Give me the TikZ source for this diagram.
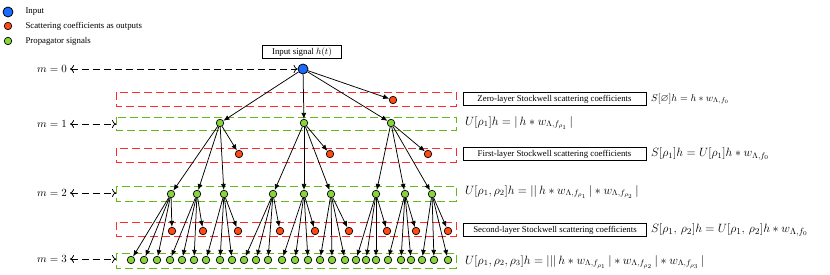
\documentclass[tikz,border=0pt]{standalone}
\usepackage{amsmath}
\usepackage{amssymb}
\usepackage{fontspec}
\setmainfont{Liberation Serif}
\usepackage{xcolor}
\usepackage{tikz}
\usetikzlibrary{arrows.meta}
\definecolor{inblue}{HTML}{1A6BFF}
\definecolor{outred}{HTML}{FF4A12}
\definecolor{propgreen}{HTML}{86D63A}
\definecolor{bandred}{HTML}{FF2A2A}
\definecolor{bandgreen}{HTML}{64B81A}

\begin{document}
\begin{tikzpicture}[x=1pt,y=-1pt,>={Latex[length=6pt,width=5pt]},
  innode/.style={circle,draw,line width=0.8pt,fill=inblue,inner sep=0pt,minimum size=10pt},
  outnode/.style={circle,draw,line width=0.7pt,fill=outred,inner sep=0pt,minimum size=7.5pt},
  propnode/.style={circle,draw,line width=0.7pt,fill=propgreen,inner sep=0pt,minimum size=7.5pt},
  lnk/.style={->,line width=0.75pt},
  marr/.style={{Computer Modern Rightarrow[length=4pt,width=8pt]}-{Computer Modern Rightarrow[length=4pt,width=8pt]},dash pattern=on 7pt off 4pt,line width=0.8pt},
  redband/.style={draw=bandred,dash pattern=on 8pt off 4pt,line width=0.9pt},
  greenband/.style={draw=bandgreen,dash pattern=on 8pt off 4pt,line width=0.9pt},
  coefbox/.style={draw,line width=0.8pt,minimum width=183pt,minimum height=13pt,inner sep=1pt,font=\fontsize{8.8}{10}\selectfont},
  legtext/.style={anchor=west,font=\fontsize{8.8}{10}\selectfont},
  mlabel/.style={inner sep=3pt,font=\fontsize{10.5}{12}\selectfont},
  formula/.style={anchor=west,inner sep=0pt,font=\fontsize{11.5}{13}\selectfont}]
  \useasboundingbox (0,0) rectangle (830,275);

  % legend
  \node[innode] (kin) at (8,12) {};
  \node[outnode] (kout) at (8,26) {};
  \node[propnode] (kprop) at (8,41) {};
  \node[legtext] (tin) at (22,12) {Input};
  \node[legtext] (tout) at (22,26) {Scattering coefficients as outputs};
  \node[legtext] (tprop) at (22,41) {Propagator signals};

  % layer bands
  \draw[redband] (116,92) rectangle (456,106);
  \draw[greenband] (116,117) rectangle (456,130);
  \draw[redband] (116,148) rectangle (456,162);
  \draw[greenband] (116,186) rectangle (456,201);
  \draw[redband] (116,222) rectangle (456,236);
  \draw[greenband] (116,253) rectangle (456,268);

  % input and outputs of layer 0
  \node[draw,line width=0.8pt,minimum width=79pt,minimum height=13pt,inner sep=1pt,font=\fontsize{8.8}{10}\selectfont] (sig) at (302,52) {Input signal $h(t)$};
  \node[innode] (in) at (303,69) {};
  \node[outnode] (s0) at (393,100) {};

  % layer 1
  \node[propnode] (u1) at (220,123) {};
  \node[propnode] (u2) at (304,123) {};
  \node[propnode] (u3) at (391,123) {};
  \node[outnode] (s1) at (239,154) {};
  \node[outnode] (s2) at (330,154) {};
  \node[outnode] (s3) at (428,154) {};

  % layer 2
  \node[propnode] (v1) at (171,194) {};
  \node[propnode] (v2) at (197,194) {};
  \node[propnode] (v3) at (224,194) {};
  \node[propnode] (v4) at (273,194) {};
  \node[propnode] (v5) at (304,194) {};
  \node[propnode] (v6) at (331,194) {};
  \node[propnode] (v7) at (376,194) {};
  \node[propnode] (v8) at (405,194) {};
  \node[propnode] (v9) at (432,194) {};
  \node[outnode] (t1) at (172,231) {};
  \node[outnode] (t2) at (203,231) {};
  \node[outnode] (t3) at (238,231) {};
  \node[outnode] (t4) at (280,231) {};
  \node[outnode] (t5) at (315,231) {};
  \node[outnode] (t6) at (349,231) {};
  \node[outnode] (t7) at (387,231) {};
  \node[outnode] (t8) at (416,231) {};
  \node[outnode] (t9) at (448,231) {};

  % layer 3
  \node[propnode] (w1) at (131,260) {};
  \node[propnode] (w2) at (144,260) {};
  \node[propnode] (w3) at (157,260) {};
  \node[propnode] (w4) at (170,260) {};
  \node[propnode] (w5) at (182,260) {};
  \node[propnode] (w6) at (194,260) {};
  \node[propnode] (w7) at (206,260) {};
  \node[propnode] (w8) at (220,260) {};
  \node[propnode] (w9) at (232,260) {};
  \node[propnode] (w10) at (244,260) {};
  \node[propnode] (w11) at (256,260) {};
  \node[propnode] (w12) at (268,260) {};
  \node[propnode] (w13) at (282,260) {};
  \node[propnode] (w14) at (295,260) {};
  \node[propnode] (w15) at (308,260) {};
  \node[propnode] (w16) at (320,260) {};
  \node[propnode] (w17) at (332,260) {};
  \node[propnode] (w18) at (345,260) {};
  \node[propnode] (w19) at (356,260) {};
  \node[propnode] (w20) at (366,260) {};
  \node[propnode] (w21) at (376,260) {};
  \node[propnode] (w22) at (388,260) {};
  \node[propnode] (w23) at (401,260) {};
  \node[propnode] (w24) at (411,260) {};
  \node[propnode] (w25) at (422,260) {};
  \node[propnode] (w26) at (434,260) {};
  \node[propnode] (w27) at (448,260) {};

  % tree links
  \draw[lnk] (in) -- (u1);
  \draw[lnk] (in) -- (u2);
  \draw[lnk] (in) -- (u3);
  \draw[lnk] (in) -- (s0);
  \draw[lnk] (u1) -- (v1);
  \draw[lnk] (u1) -- (v2);
  \draw[lnk] (u1) -- (v3);
  \draw[lnk] (u1) -- (s1);
  \draw[lnk] (u2) -- (v4);
  \draw[lnk] (u2) -- (v5);
  \draw[lnk] (u2) -- (v6);
  \draw[lnk] (u2) -- (s2);
  \draw[lnk] (u3) -- (v7);
  \draw[lnk] (u3) -- (v8);
  \draw[lnk] (u3) -- (v9);
  \draw[lnk] (u3) -- (s3);
  \draw[lnk] (v1) -- (w1);
  \draw[lnk] (v1) -- (w2);
  \draw[lnk] (v1) -- (w3);
  \draw[lnk] (v1) -- (t1);
  \draw[lnk] (v2) -- (w4);
  \draw[lnk] (v2) -- (w5);
  \draw[lnk] (v2) -- (w6);
  \draw[lnk] (v2) -- (t2);
  \draw[lnk] (v3) -- (w7);
  \draw[lnk] (v3) -- (w8);
  \draw[lnk] (v3) -- (w9);
  \draw[lnk] (v3) -- (t3);
  \draw[lnk] (v4) -- (w10);
  \draw[lnk] (v4) -- (w11);
  \draw[lnk] (v4) -- (w12);
  \draw[lnk] (v4) -- (t4);
  \draw[lnk] (v5) -- (w13);
  \draw[lnk] (v5) -- (w14);
  \draw[lnk] (v5) -- (w15);
  \draw[lnk] (v5) -- (t5);
  \draw[lnk] (v6) -- (w16);
  \draw[lnk] (v6) -- (w17);
  \draw[lnk] (v6) -- (w18);
  \draw[lnk] (v6) -- (t6);
  \draw[lnk] (v7) -- (w19);
  \draw[lnk] (v7) -- (w20);
  \draw[lnk] (v7) -- (w21);
  \draw[lnk] (v7) -- (t7);
  \draw[lnk] (v8) -- (w22);
  \draw[lnk] (v8) -- (w23);
  \draw[lnk] (v8) -- (w24);
  \draw[lnk] (v8) -- (t8);
  \draw[lnk] (v9) -- (w25);
  \draw[lnk] (v9) -- (w26);
  \draw[lnk] (v9) -- (w27);
  \draw[lnk] (v9) -- (t9);

  % depth markers
  \node[mlabel] (m0) at (52,69) {$m=0$};
  \node[mlabel] (m1) at (52,124) {$m=1$};
  \node[mlabel] (m2) at (52,193) {$m=2$};
  \node[mlabel] (m3) at (52,259) {$m=3$};
  \coordinate (e1) at (116,124);
  \coordinate (e2) at (116,193);
  \coordinate (e3) at (116,259);
  \draw[marr] (m0) -- (in);
  \draw[marr] (m1) -- (e1);
  \draw[marr] (m2) -- (e2);
  \draw[marr] (m3) -- (e3);

  % coefficient boxes and formulas
  \node[coefbox] (b0) at (554.5,99) {Zero-layer Stockwell scattering coefficients};
  \node[coefbox] (b1) at (554.5,154) {First-layer Stockwell scattering coefficients};
  \node[coefbox] (b2) at (555,230) {Second-layer Stockwell scattering coefficients};
  \node[formula,font=\fontsize{10.3}{12}\selectfont] (f0) at (651,99) {$S[\varnothing]h=h*w_{\Lambda,f_0}$};
  \node[formula] (f1) at (651,154) {$S[\rho_1]h=U[\rho_1]h*w_{\Lambda,f_0}$};
  \node[formula,font=\fontsize{13}{15}\selectfont] (f2) at (651,230) {$S[\rho_1,\,\rho_2]h=U[\rho_1,\,\rho_2]h*w_{\Lambda,f_0}$};
  \node[formula] (g1) at (465,123) {$U[\rho_1]h=|\,h*w_{\Lambda,f_{\rho_1}}\,|$};
  \node[formula] (g2) at (465,192) {$U[\rho_1,\rho_2]h=||\,h*w_{\Lambda,f_{\rho_1}}\,|*w_{\Lambda,f_{\rho_2}}\,|$};
  \node[formula] (g3) at (465,262) {$U[\rho_1,\rho_2,\rho_3]h=|||\,h*w_{\Lambda,f_{\rho_1}}\,|*w_{\Lambda,f_{\rho_2}}\,|*w_{\Lambda,f_{\rho_3}}\,|$};
\end{tikzpicture}
\end{document}
